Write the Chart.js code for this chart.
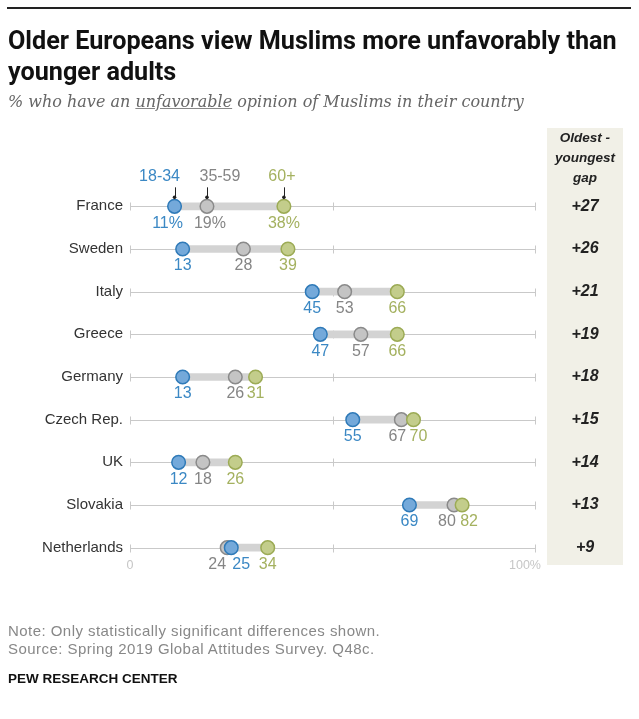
<!DOCTYPE html>
<html>
<head>
<meta charset="utf-8">
<script src="https://cdn.jsdelivr.net/npm/chart.js@4.4.1/dist/chart.umd.min.js"></script>
<style>
  body { margin: 0; background: #fff; }
  #wrap { position: relative; width: 639px; height: 719px; overflow: hidden; font-family: "Liberation Sans", Arial, sans-serif; }
  #rule { position: absolute; left: 7px; top: 7px; width: 624px; height: 2px; background: #222; }
  h1 { position: absolute; left: 8px; top: 25px; margin: 0; width: 630px; font-family: "Liberation Sans Narrow", "Roboto", sans-serif; font-weight: bold; font-size: 25.2px; line-height: 31px; color: #111; }
  .sub { position: absolute; left: 8px; top: 92px; font-family: "DejaVu Serif", Georgia, serif; font-style: italic; font-size: 16px; color: #666; }
  .sub u { text-decoration-color: #888; }
  .gaphead { position: absolute; left: 547px; top: 128px; width: 76px; text-align: center; font-weight: bold; font-style: italic; font-size: 13.5px; line-height: 20px; color: #222; }
  .note { position: absolute; left: 8px; font-size: 15px; letter-spacing: 0.45px; color: #888; }
  .pew { position: absolute; left: 8px; top: 671px; font-family: "Liberation Sans Narrow", sans-serif; font-weight: bold; font-size: 13.5px; color: #111; }
  canvas { position: absolute; left: 0; top: 0; }
</style>
</head>
<body>
<div id="wrap">
  <canvas id="dots" width="639" height="719"></canvas>
  <div id="rule"></div>
  <h1>Older Europeans view Muslims more unfavorably than younger adults</h1>
  <div class="sub">% who have an <u>unfavorable</u> opinion of Muslims in their country</div>
  <div class="gaphead">Oldest -<br>youngest<br>gap</div>
  <div class="note" style="top:622px">Note: Only statistically significant differences shown.</div>
  <div class="note" style="top:640px">Source: Spring 2019 Global Attitudes Survey. Q48c.</div>
  <div class="pew">PEW RESEARCH CENTER</div>
</div>
<script>
const countries = ["France", "Sweden", "Italy", "Greece", "Germany", "Czech Rep.", "UK", "Slovakia", "Netherlands"];
const age18to34 = [11, 13, 45, 47, 13, 55, 12, 69, 25];
const age35to59 = [19, 28, 53, 57, 26, 67, 18, 80, 24];
const age60plus = [38, 39, 66, 66, 31, 70, 26, 82, 34];
const seriesNames = ["18-34", "35-59", "60+"];
const axisTicks = [0, 50, 100];

const blue = { fill: "#74a9da", line: "#2f7ab8", text: "#3b88c4" };
const grey = { fill: "#c4c4c4", line: "#8a8a8a", text: "#858585" };
const green = { fill: "#c3cd8b", line: "#9cab55", text: "#a4b15f" };

// label nudges (px) where dots sit close together
const nudge = {
  "France": [-7, 3, 0],
  "Netherlands": [10, -10, 0],
  "Czech Rep.": [0, -4, 5],
  "Slovakia": [0, -7, 7]
};
const headNudge = [-15, 13, -2];

const gaps = countries.map((c, i) => age60plus[i] - age18to34[i]);
const ranges = countries.map((c, i) => [
  Math.min(age18to34[i], age35to59[i], age60plus[i]),
  Math.max(age18to34[i], age35to59[i], age60plus[i])
]);

function pts(vals) {
  return vals.map((v, i) => ({ x: v, y: countries[i] }));
}

const rowDecor = {
  id: "rowDecor",
  beforeDatasetsDraw(chart) {
    const { ctx, scales: { x, y } } = chart;
    ctx.save();
    // gap column background
    ctx.fillStyle = "#f1f0e7";
    ctx.fillRect(547, 128, 76, 437);
    ctx.strokeStyle = "#c9c9c9";
    ctx.lineWidth = 1;
    countries.forEach((c, i) => {
      const py = Math.round(y.getPixelForValue(i)) + 0.5;
      ctx.beginPath();
      ctx.moveTo(x.getPixelForValue(0), py);
      ctx.lineTo(x.getPixelForValue(100), py);
      axisTicks.forEach(t => {
        const px = Math.round(x.getPixelForValue(t)) + 0.5;
        ctx.moveTo(px, py - 4);
        ctx.lineTo(px, py + 4);
      });
      ctx.stroke();
    });
    ctx.restore();
  },
  afterDatasetsDraw(chart) {
    const { ctx, scales: { x, y } } = chart;
    ctx.save();
    ctx.textBaseline = "middle";
    // country names
    ctx.font = "15px 'Liberation Sans', Arial, sans-serif";
    ctx.fillStyle = "#333";
    ctx.textAlign = "right";
    countries.forEach((c, i) => ctx.fillText(c, 123, y.getPixelForValue(i)));
    // value labels
    ctx.textAlign = "center";
    ctx.font = "16px 'Liberation Sans', Arial, sans-serif";
    const sets = [age18to34, age35to59, age60plus];
    const cols = [blue, grey, green];
    countries.forEach((c, i) => {
      const py = y.getPixelForValue(i) + 17;
      sets.forEach((s, k) => {
        const dx = nudge[c] ? nudge[c][k] : 0;
        ctx.fillStyle = cols[k].text;
        ctx.fillText(s[i] + (i === 0 ? "%" : ""), x.getPixelForValue(s[i]) + dx, py);
      });
    });
    // series headers with leaders above France
    const fy = y.getPixelForValue(0);
    sets.forEach((s, k) => {
      const px = x.getPixelForValue(s[0]);
      ctx.fillStyle = cols[k].text;
      ctx.fillText(seriesNames[k], px + headNudge[k], fy - 30);
      ctx.strokeStyle = "#222";
      ctx.lineWidth = 1;
      ctx.beginPath();
      ctx.moveTo(Math.round(px) + 0.5, fy - 19);
      ctx.lineTo(Math.round(px) + 0.5, fy - 9);
      ctx.stroke();
      ctx.fillStyle = "#222";
      ctx.beginPath();
      ctx.arc(px, fy - 9, 1.8, 0, Math.PI * 2);
      ctx.fill();
    });
    // axis end labels
    const ly = y.getPixelForValue(countries.length - 1) + 18;
    ctx.font = "12.5px 'Liberation Sans', Arial, sans-serif";
    ctx.fillStyle = "#c6c6c6";
    ctx.fillText("0", x.getPixelForValue(0), ly);
    ctx.fillText("100%", x.getPixelForValue(100) - 10, ly);
    // gap values
    ctx.font = "italic bold 16px 'Liberation Sans', Arial, sans-serif";
    ctx.fillStyle = "#222";
    gaps.forEach((g, i) => ctx.fillText("+" + g, 585, y.getPixelForValue(i)));
    ctx.restore();
  }
};

new Chart(document.getElementById("dots"), {
  data: {
    labels: countries,
    datasets: [
      {
        type: "bar",
        indexAxis: "y",
        data: ranges,
        backgroundColor: "#d3d3d3",
        barThickness: 7,
        order: 4
      },
      {
        type: "scatter",
        label: seriesNames[1],
        data: pts(age35to59),
        backgroundColor: grey.fill,
        borderColor: grey.line,
        borderWidth: 1.5,
        pointRadius: 6.8,
        order: 3
      },
      {
        type: "scatter",
        label: seriesNames[0],
        data: pts(age18to34),
        backgroundColor: blue.fill,
        borderColor: blue.line,
        borderWidth: 1.5,
        pointRadius: 6.8,
        order: 2
      },
      {
        type: "scatter",
        label: seriesNames[2],
        data: pts(age60plus),
        backgroundColor: green.fill,
        borderColor: green.line,
        borderWidth: 1.5,
        pointRadius: 6.8,
        order: 1
      }
    ]
  },
  options: {
    responsive: false,
    animation: false,
    layout: { padding: { left: 130, right: 104, top: 185, bottom: 150 } },
    plugins: { legend: { display: false }, tooltip: { enabled: false } },
    scales: {
      x: { type: "linear", min: 0, max: 100, display: false },
      y: { type: "category", labels: countries, offset: true, display: false, grid: { display: false } }
    }
  },
  plugins: [rowDecor]
});
</script>
</body>
</html>
